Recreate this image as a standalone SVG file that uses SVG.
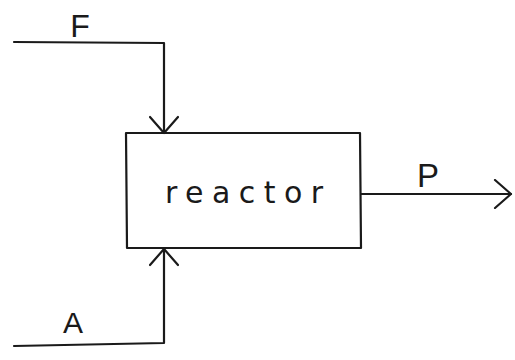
<svg xmlns="http://www.w3.org/2000/svg" width="515" height="360" viewBox="0 0 515 360">
<defs>
<style>
.ln{fill:none;stroke:#1a1a1a;stroke-width:2.2;stroke-linecap:round;stroke-linejoin:round}
.lbl{font-family:"Liberation Sans","DejaVu Sans",sans-serif;fill:#1a1a1a}
.big{font-family:"DejaVu Sans","Liberation Sans",sans-serif;fill:#1a1a1a}
</style>
<marker id="arr" viewBox="0 0 20 30" refX="18" refY="15" markerWidth="20" markerHeight="30" markerUnits="userSpaceOnUse" orient="auto">
<path d="M2,1 L18,15 L2,29" fill="none" stroke="#1a1a1a" stroke-width="2.2" stroke-linecap="round" stroke-linejoin="round"/>
</marker>
</defs>
<rect width="515" height="360" fill="#fff"/>
<g id="reactor">
<path class="ln" d="M126,133 L360,133 L361,248 L127,248 Z"/>
<text class="big" x="244" y="203" font-size="30" text-anchor="middle" textLength="158" lengthAdjust="spacing">reactor</text>
</g>
<g id="connectors">
<path class="ln" d="M14,42 L164,43 L164,133" marker-end="url(#arr)"/>
<path class="ln" d="M14,346 L164,343 L164,249" marker-end="url(#arr)"/>
<path class="ln" d="M361,194 L511,194" marker-end="url(#arr)"/>
</g>
<g id="labels">
<text class="lbl" x="80" y="37" font-size="32" text-anchor="middle">F</text>
<text class="lbl" x="73" y="333" font-size="30" text-anchor="middle">A</text>
<text class="lbl" x="428" y="187" font-size="33" text-anchor="middle">P</text>
</g>
</svg>
